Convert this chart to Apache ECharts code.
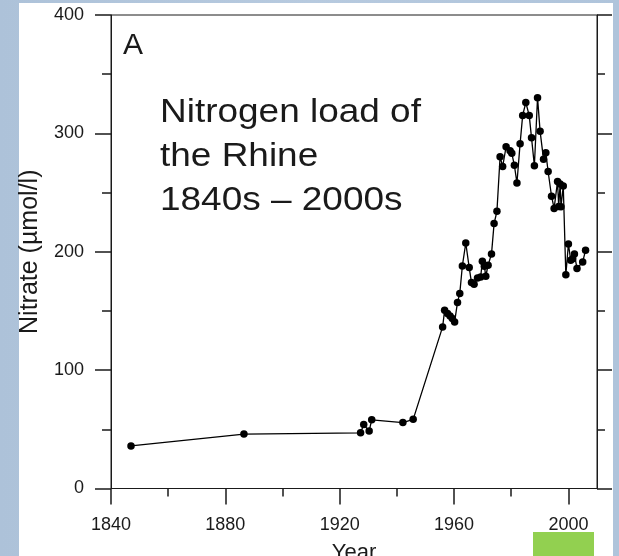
<!DOCTYPE html>
<html>
<head>
<meta charset="utf-8">
<script src="https://cdn.jsdelivr.net/npm/echarts@6/dist/echarts.min.js"></script>
<style>
  html, body { margin: 0; padding: 0; }
  body { background: linear-gradient(90deg, #adc2d9 0%, #b7cadf 50%, #afc4db 100%); }
  #chart { width: 619px; height: 556px; }
</style>
</head>
<body>
<div id="chart"></div>
<script>
// year of each sample
const years = [1847, 1886.5, 1927.3, 1928.4, 1930.3, 1931.2, 1942.1, 1945.7,
  1956, 1956.7, 1957.7, 1958.6, 1959.4, 1960.2, 1961.2, 1962, 1962.9, 1964.1,
  1965.3, 1966.1, 1967, 1968.2, 1969.3, 1969.9, 1970.6, 1971.1, 1971.9, 1973.1,
  1974, 1975, 1976.1, 1977, 1978.2, 1979.6, 1980.2, 1981.1, 1982, 1983.1, 1984,
  1985.1, 1986.3, 1987.1, 1988.1, 1989.2, 1990.1, 1991.3, 1992.1, 1992.9, 1994.1,
  1995, 1996.2, 1996.6, 1997.1, 1997.4, 1998.2, 1999.1, 2000, 2000.8, 2001.5,
  2002.1, 2003, 2005, 2006];
// nitrate, umol/l
const nitrate = [36, 46, 47, 54, 48.5, 58, 55.7, 58.4,
  136.5, 150.5, 147.8, 145.8, 143.6, 140.7, 157.2, 164.8, 188, 207.4,
  186.6, 174, 172.5, 177.9, 178.7, 192, 187.8, 179.3, 188.6, 198.2,
  223.8, 234.2, 280.3, 272, 288.7, 285.4, 283.2, 273, 258.1, 291.3, 315.2,
  326.1, 315, 296.2, 272.6, 330.2, 301.7, 278.1, 283.7, 267.8, 246.9,
  236.6, 259.4, 238.2, 257.3, 238, 255.5, 180.5, 206.6, 192.8, 194,
  198.2, 185.8, 191.4, 201.3];

const majorYears = [1840, 1880, 1920, 1960, 2000];
const minorYears = [1860, 1900, 1940, 1980];
const titleLines = ['Nitrogen load of', 'the Rhine', '1840s \u2013 2000s'];

const FONT = '"Liberation Sans", Arial, sans-serif';
const INK = '#1a1a1a';

let chart = echarts.init(document.getElementById('chart'));

let yAxisBase = {
  type: 'value',
  min: 0,
  max: 400,
  interval: 100,
  splitLine: { show: false },
  axisLine: { show: true, lineStyle: { color: INK, width: 1 } },
};

chart.setOption({
  animation: false,
  textStyle: { fontFamily: FONT },
  grid: { left: 111, top: 15, width: 486, height: 473.5, show: true,
          containLabel: false, outerBoundsMode: 'none',
          borderColor: INK, borderWidth: 1, backgroundColor: '#fff' },
  xAxis: [
    {
      type: 'value', min: 1840, max: 2010,
      name: 'Year', nameLocation: 'middle', nameGap: 53,
      nameTextStyle: { fontSize: 22, color: INK, fontFamily: FONT },
      splitLine: { show: false },
      axisLine: { show: true, lineStyle: { color: INK, width: 1 } },
      axisTick: { show: true, length: 16, customValues: majorYears,
                  lineStyle: { color: INK, width: 1.5 } },
      axisLabel: { customValues: majorYears, margin: 28, fontSize: 18,
                   color: INK, fontFamily: FONT, formatter: v => String(v) }
    },
    {
      type: 'value', min: 1840, max: 2010, position: 'bottom',
      splitLine: { show: false },
      axisLine: { show: false },
      axisTick: { show: true, length: 8, customValues: minorYears,
                  lineStyle: { color: INK, width: 1.5 } },
      axisLabel: { show: false }
    }
  ],
  yAxis: [
    Object.assign({}, yAxisBase, {
      position: 'left',
      name: 'Nitrate (\u00b5mol/l)', nameLocation: 'middle', nameGap: 63,
      nameTextStyle: { fontSize: 25, color: INK, fontFamily: FONT },
      axisTick: { show: true, length: 16, lineStyle: { color: INK, width: 1.5 } },
      minorTick: { show: true, splitNumber: 2, length: 9,
                   lineStyle: { color: INK, width: 1.5 } },
      axisLabel: { margin: 27, fontSize: 18, color: INK, fontFamily: FONT }
    }),
    Object.assign({}, yAxisBase, {
      position: 'right',
      axisTick: { show: true, length: 15, lineStyle: { color: INK, width: 1.5 } },
      minorTick: { show: true, splitNumber: 2, length: 8,
                   lineStyle: { color: INK, width: 1.5 } },
      axisLabel: { show: false }
    })
  ],
  graphic: [
    { type: 'rect', z: -100, silent: true,
      shape: { x: 19, y: 3, width: 594, height: 560 },
      style: { fill: '#fff' } },
    { type: 'rect', z: 100, silent: true,
      shape: { x: 533, y: 532, width: 61, height: 30 },
      style: { fill: '#92d050' } },
    { type: 'text', z: 100, left: 123, top: 31,
      style: { text: 'A', fontSize: 30, fill: INK, font: '30px ' + FONT } }
  ].concat(titleLines.map((t, i) => ({
    type: 'text', z: 100, x: 160, y: 112.5 + i * 44.4, scaleX: 1.12,
    style: { text: t, font: '33px ' + FONT, fill: INK, verticalAlign: 'middle' }
  }))),
  series: [{
    type: 'line',
    xAxisIndex: 0,
    yAxisIndex: 0,
    data: years.map((y, i) => [y, nitrate[i]]),
    symbol: 'circle',
    symbolSize: 7.5,
    itemStyle: { color: '#000' },
    lineStyle: { color: '#000', width: 1.3 }
  }]
});
</script>
</body>
</html>
